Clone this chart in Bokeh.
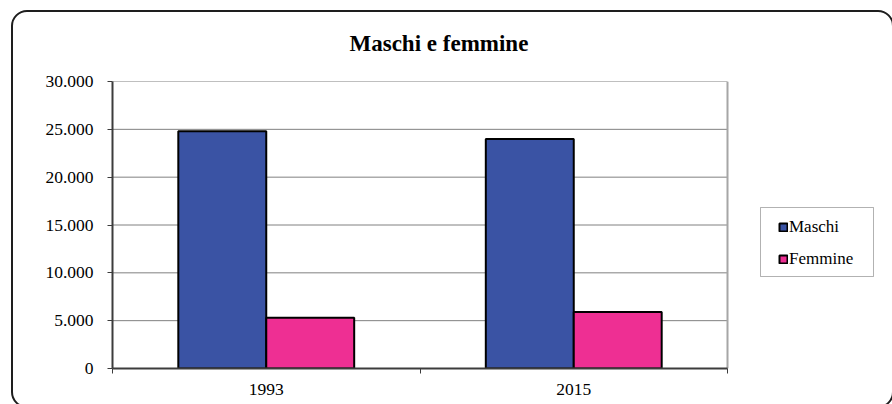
from bokeh.plotting import figure
from bokeh.models import (ColumnDataSource, FixedTicker, Legend, LegendItem,
                          Range1d, InlineStyleSheet, BoxAnnotation)
from bokeh.transform import dodge
from bokeh.embed import file_html
from bokeh.resources import INLINE

# ---- data ----
years = ["1993", "2015"]
maschi = [24800, 24000]
femmine = [5300, 5900]
series = ["Maschi", "Femmine"]
colors = ["#3A53A4", "#EE2F93"]
y_ticks = [0, 5000, 10000, 15000, 20000, 25000, 30000]
y_tick_labels = ["0", "5.000", "10.000", "15.000", "20.000", "25.000", "30.000"]
title_text = "Maschi e femmine"

FONT = "Liberation Serif"

# layout (pixels)
W, H = 892, 404
PLOT_L, PLOT_R, PLOT_T, PLOT_B = 112, 727, 81, 368

n = len(years)
centers = [i + 0.5 for i in range(n)]
bounds = [float(i) for i in range(n + 1)]
src = ColumnDataSource(dict(x=centers, maschi=maschi, femmine=femmine))
grid_src = ColumnDataSource(dict(x0=[0] * len(y_ticks), x1=[n] * len(y_ticks),
                                 y=y_ticks))

# the frame runs to the right edge so that the legend (drawn inside it) is not clipped;
# the chart's own plot area ends at x = n
x_end = n * (W - PLOT_L) / (PLOT_R - PLOT_L)
p = figure(width=W, height=H, output_backend="svg", toolbar_location=None,
           x_range=Range1d(0, x_end), y_range=Range1d(y_ticks[0], y_ticks[-1]),
           min_border_left=PLOT_L, min_border_right=0, min_border_top=PLOT_T,
           min_border_bottom=H - PLOT_B)
p.background_fill_color = "white"
p.border_fill_color = "white"
p.outline_line_color = None

# rounded outer chart border (page decoration)
p.stylesheets = [InlineStyleSheet(css="""
:host { position: relative; overflow: hidden; }
:host::after {
  content: ""; position: absolute; left: 11px; top: 10px;
  width: 883px; height: 398px; box-sizing: border-box;
  border: 2.5px solid #1e1e1e; border-radius: 16px;
  pointer-events: none; z-index: 100;
}
""")]

# horizontal gridlines, limited to the plot area
p.segment(x0="x0", x1="x1", y0="y", y1="y", source=grid_src,
          line_color="#808080", line_width=1)
# right border of the plot area
p.segment(x0=[n], x1=[n], y0=[y_ticks[0]], y1=[y_ticks[-1]],
          line_color="#a6a6a6", line_width=2)

bw = 0.286
rm = p.vbar(x=dodge("x", -bw / 2, range=p.x_range), top="maschi", width=bw,
            source=src, fill_color=colors[0], line_color="black", line_width=2)
rf = p.vbar(x=dodge("x", bw / 2, range=p.x_range), top="femmine", width=bw,
            source=src, fill_color=colors[1], line_color="black", line_width=2)

# y axis
ya = p.yaxis[0]
ya.ticker = FixedTicker(ticks=y_ticks)
ya.major_label_overrides = {t: l for t, l in zip(y_ticks, y_tick_labels)}
ya.axis_line_color = "#3c3c3c"
ya.axis_line_width = 2
ya.major_tick_line_color = "#3c3c3c"
ya.major_tick_line_width = 1
ya.major_tick_out = 5
ya.major_tick_in = 0
ya.minor_tick_line_color = None
ya.major_label_standoff = 14
ya.major_label_text_font = FONT
ya.major_label_text_font_size = "17.5px"
ya.major_label_text_color = "black"

# x axis
xa = p.xaxis[0]
xa.bounds = (0, n)
xa.ticker = FixedTicker(ticks=centers, minor_ticks=bounds)
xa.major_label_overrides = {c: y for c, y in zip(centers, years)}
xa.axis_line_color = "#3c3c3c"
xa.axis_line_width = 2
xa.major_tick_line_color = None
xa.major_tick_out = 0
xa.major_tick_in = 0
xa.minor_tick_line_color = "#3c3c3c"
xa.minor_tick_out = 5
xa.minor_tick_in = 0
xa.major_label_standoff = 10
xa.major_label_text_font = FONT
xa.major_label_text_font_size = "17.5px"
xa.major_label_text_color = "black"

p.xgrid.visible = False
p.ygrid.visible = False

# title
p.title.text = title_text
p.title.text_font = FONT
p.title.text_font_style = "bold"
p.title.text_font_size = "23px"
p.title.align = "left"
p.title.offset = 237
p.title.vertical_align = "top"
p.title.standoff = 47
p.title.text_color = "black"

# legend
legend = Legend(items=[LegendItem(label=series[0], renderers=[rm]),
                       LegendItem(label=series[1], renderers=[rf])],
                location=(778 - PLOT_L, PLOT_B - 269), glyph_width=10, glyph_height=10,
                label_height=20, spacing=12, padding=0, label_standoff=1, margin=0,
                border_line_color=None, background_fill_alpha=0,
                label_text_font=FONT, label_text_font_size="17px",
                label_text_color="black")
p.add_layout(legend)

legend_box = BoxAnnotation(left=760 - PLOT_L, right=873 - PLOT_L,
                           top=PLOT_B - 207, bottom=PLOT_B - 276,
                           left_units="screen", right_units="screen",
                           top_units="screen", bottom_units="screen",
                           fill_color=None, line_color="black", line_width=1)
p.add_layout(legend_box)

open("out.html", "w").write(file_html(p, INLINE))
